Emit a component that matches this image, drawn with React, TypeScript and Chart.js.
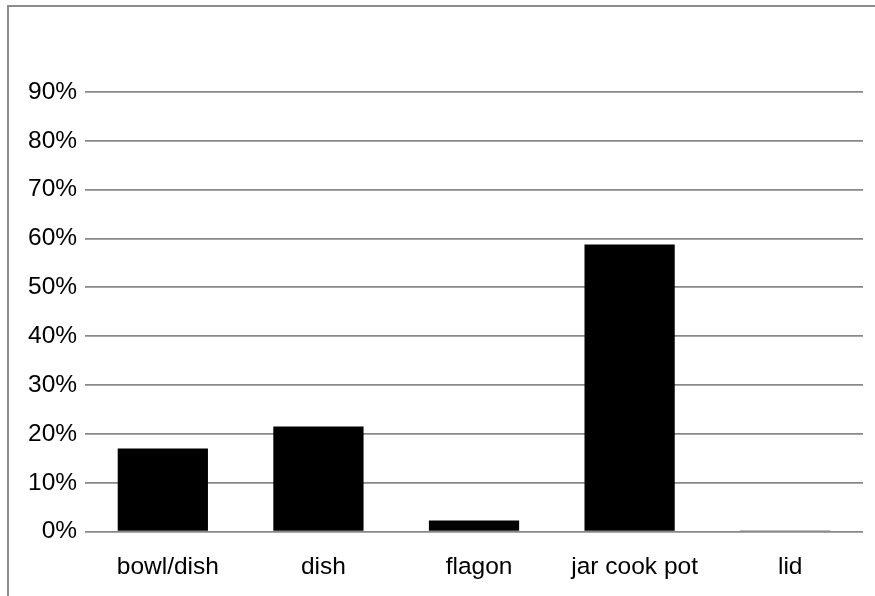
import React, { useEffect, useRef } from "react";
import { Chart, registerables } from "chart.js";

Chart.register(...registerables);

const categories = ["bowl/dish", "dish", "flagon", "jar cook pot", "lid"];
const shares = [17.0, 21.5, 2.25, 58.8, 0.1];
const yTickValues = [0, 10, 20, 30, 40, 50, 60, 70, 80, 90];

export default function App() {
  const ref = useRef<HTMLCanvasElement | null>(null);

  useEffect(() => {
    if (!ref.current) return;
    const chart = new Chart(ref.current, {
      type: "bar",
      data: {
        labels: categories,
        datasets: [
          {
            data: shares,
            backgroundColor: "#000000",
            borderWidth: 0,
            categoryPercentage: 1,
            barPercentage: 0.58,
          },
        ],
      },
      options: {
        animation: false,
        responsive: false,
        maintainAspectRatio: false,
        layout: { padding: { left: 11, top: 85, right: 12, bottom: 0 } },
        plugins: { legend: { display: false }, tooltip: { enabled: false } },
        scales: {
          x: {
            grid: { display: false, drawTicks: false },
            border: { display: false },
            ticks: {
              color: "#000",
              font: { family: "'Liberation Sans', Arial, sans-serif", size: 24.5 },
              padding: 21,
              labelOffset: 5,
              maxRotation: 0,
              autoSkip: false,
            },
          },
          y: {
            min: 0,
            max: 90,
            afterBuildTicks: (axis: any) => {
              axis.ticks = yTickValues.map((v) => ({ value: v }));
            },
            grid: { color: "#888888", lineWidth: 1.8, drawTicks: false },
            border: { display: false },
            ticks: {
              color: "#000",
              font: { family: "'Liberation Sans', Arial, sans-serif", size: 24.5 },
              padding: 8,
              callback: (v: any) => v + "%",
            },
          },
        },
      },
    });
    return () => chart.destroy();
  }, []);

  return (
    <div
      style={{
        position: "absolute",
        left: 7,
        top: 5,
        width: 870,
        height: 597,
        borderTop: "2px solid #8c8c8c",
        borderLeft: "2px solid #8c8c8c",
        background: "#fff",
        overflow: "hidden",
      }}
    >
      <canvas ref={ref} width={866} height={596} style={{ display: "block" }} />
    </div>
  );
}
